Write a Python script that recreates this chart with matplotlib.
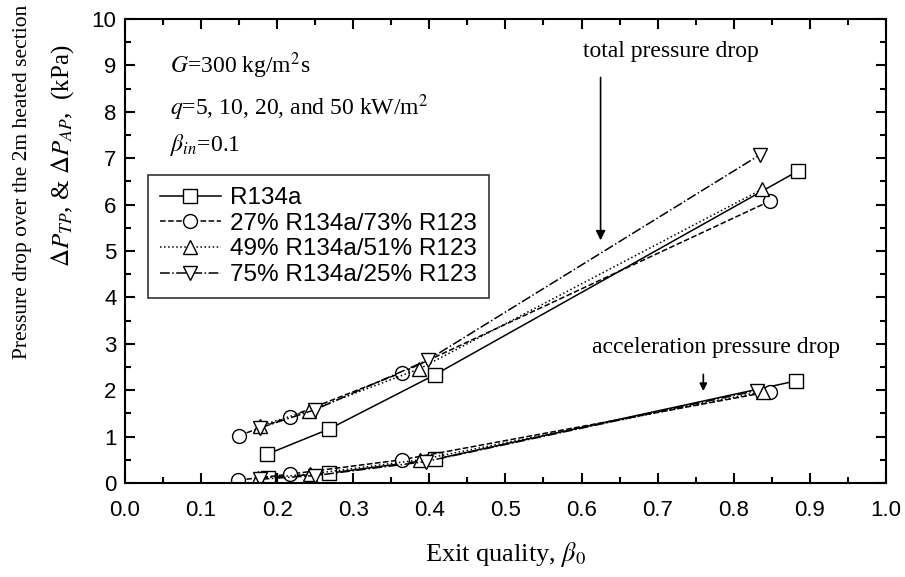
import matplotlib
matplotlib.use('Agg')
import matplotlib.pyplot as plt
from matplotlib.ticker import MultipleLocator, FormatStrFormatter

plt.rcParams['mathtext.fontset'] = 'stix'

labels = ['R134a', '27% R134a/73% R123', '49% R134a/51% R123', '75% R134a/25% R123']
markers = ['s', 'o', '^', 'v']
styles = ['-', '--', ':', '-.']

# total pressure drop
tp_x = [[0.187, 0.268, 0.407, 0.885],
        [0.150, 0.217, 0.364, 0.848],
        [0.177, 0.242, 0.387, 0.837],
        [0.178, 0.250, 0.398, 0.834]]
tp_y = [[0.62, 1.16, 2.33, 6.73],
        [1.02, 1.43, 2.38, 6.08],
        [1.23, 1.56, 2.46, 6.33],
        [1.19, 1.58, 2.65, 7.07]]

# acceleration pressure drop
ap_x = [[0.188, 0.268, 0.407, 0.882],
        [0.149, 0.217, 0.364, 0.848],
        [0.175, 0.243, 0.388, 0.838],
        [0.177, 0.250, 0.395, 0.830]]
ap_y = [[0.11, 0.21, 0.51, 2.20],
        [0.06, 0.19, 0.50, 1.97],
        [0.10, 0.19, 0.50, 1.97],
        [0.08, 0.16, 0.46, 1.99]]

fig = plt.figure(figsize=(9.05, 5.77), dpi=100)
ax = fig.add_axes([0.138, 0.163, 0.841, 0.804])

for i in range(4):
    ax.plot(tp_x[i], tp_y[i], linestyle=styles[i], marker=markers[i], color='black',
            mfc='white', mec='black', ms=10, lw=1.1, label=labels[i])
    ax.plot(ap_x[i], ap_y[i], linestyle=styles[i], marker=markers[i], color='black',
            mfc='white', mec='black', ms=10, lw=1.1)

ax.set_xlim(0, 1.0)
ax.set_ylim(0, 10)
ax.xaxis.set_major_locator(MultipleLocator(0.1))
ax.xaxis.set_minor_locator(MultipleLocator(0.05))
ax.yaxis.set_major_locator(MultipleLocator(1))
ax.yaxis.set_minor_locator(MultipleLocator(0.5))
ax.tick_params(which='both', direction='in', top=True, right=True, width=1.5)
ax.tick_params(which='major', length=7)
ax.tick_params(which='minor', length=4)
ax.tick_params(axis='x', pad=12)
ax.tick_params(axis='y', pad=6)
for s in ax.spines.values():
    s.set_linewidth(1.5)
for t in ax.get_xticklabels() + ax.get_yticklabels():
    t.set_family('Liberation Sans')
    t.set_fontsize(16)
ax.xaxis.set_major_formatter(FormatStrFormatter('%.1f'))
ax.yaxis.set_major_formatter(FormatStrFormatter('%d'))

serif = 'Liberation Serif'
ax.set_xlabel(r'Exit quality, $\mathit{\beta_{0}}$', family=serif, fontsize=19, labelpad=14)
fig.text(0.025, 0.685, 'Pressure drop over the 2m heated section', rotation=90,
         family=serif, fontsize=15.5, ha='center', va='center')
fig.text(0.069, 0.73, r'$\mathit{\Delta P_{TP}}$, & $\mathit{\Delta P_{AP}}$,  (kPa)', rotation=90,
         family=serif, fontsize=18, ha='center', va='center')

ax.text(0.059, 9.0, r'$\mathit{G}$=300 kg/m$^2$s', transform=ax.get_yaxis_transform(),
        family=serif, fontsize=17, va='center')
ax.text(0.059, 8.08, r'$\mathit{q}$=5, 10, 20, and 50 kW/m$^2$', transform=ax.get_yaxis_transform(),
        family=serif, fontsize=17, va='center')
ax.text(0.059, 7.28, r'$\mathit{\beta_{in}}$=0.1', transform=ax.get_yaxis_transform(),
        family=serif, fontsize=17, va='center')

leg = ax.legend(loc='upper left', bbox_to_anchor=(0.030, 0.664), prop={'family': 'Liberation Sans', 'size': 17.5},
                frameon=True, fancybox=False, edgecolor='black', handlelength=2.5, borderpad=0.5,
                labelspacing=0.15, handletextpad=0.4, borderaxespad=0)
leg.get_frame().set_linewidth(1.2)

ax.text(0.717, 9.29, 'total pressure drop', family=serif, fontsize=17, ha='center', va='center')
ax.annotate('', xy=(0.625, 5.17), xytext=(0.625, 8.8),
            arrowprops=dict(arrowstyle='-|>', color='black', lw=1.2, mutation_scale=14))
ax.text(0.777, 2.93, 'acceleration pressure drop', family=serif, fontsize=17, ha='center', va='center')
ax.annotate('', xy=(0.76, 1.92), xytext=(0.76, 2.4),
            arrowprops=dict(arrowstyle='-|>', color='black', lw=1.2, mutation_scale=11))

fig.savefig('out.png', dpi=100)
